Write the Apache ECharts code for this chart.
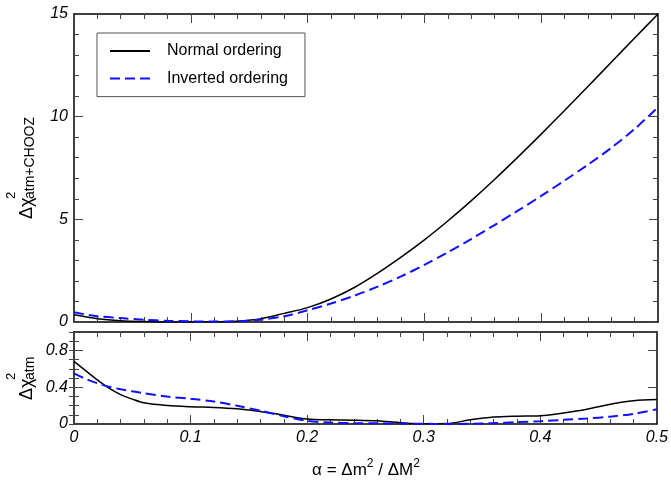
<!DOCTYPE html>
<html>
<head>
<meta charset="utf-8">
<script src="https://cdn.jsdelivr.net/npm/echarts@6/dist/echarts.min.js"></script>
<style>
html,body{margin:0;padding:0;background:#fff;}
#chart{width:671px;height:483px;}
</style>
</head>
<body>
<div id="chart"></div>
<script>
// ---- Data ----
var seriesNames = ['Normal ordering', 'Inverted ordering'];

// Upper panel: Δχ²(atm+CHOOZ) vs α
var alphaTop    = [0, 0.02, 0.04, 0.06, 0.08, 0.10, 0.12, 0.14, 0.16, 0.18, 0.20, 0.22, 0.24, 0.26, 0.28, 0.30, 0.32, 0.34, 0.36, 0.38, 0.40, 0.42, 0.44, 0.46, 0.48, 0.50];
var normalTop   = [0.35, 0.16, 0.06, 0.02, 0.0, 0.0, 0.0, 0.04, 0.16, 0.42, 0.70, 1.12, 1.68, 2.38, 3.16, 4.0, 4.92, 5.90, 6.94, 8.03, 9.15, 10.30, 11.47, 12.65, 13.83, 15.0];
var invertedTop = [0.47, 0.28, 0.19, 0.11, 0.06, 0.03, 0.02, 0.04, 0.11, 0.28, 0.57, 0.90, 1.28, 1.72, 2.22, 2.78, 3.39, 4.04, 4.72, 5.42, 6.14, 6.89, 7.66, 8.48, 9.40, 10.46];

// Lower panel: Δχ²(atm) vs α
var alphaBottom    = [0, 0.01, 0.02, 0.03, 0.04, 0.05, 0.06, 0.08, 0.10, 0.12, 0.14, 0.16, 0.18, 0.20, 0.22, 0.24, 0.26, 0.28, 0.30, 0.32, 0.34, 0.36, 0.38, 0.40, 0.42, 0.44, 0.46, 0.48, 0.50];
var normalBottom   = [0.68, 0.58, 0.48, 0.39, 0.32, 0.27, 0.23, 0.20, 0.187, 0.18, 0.165, 0.137, 0.095, 0.055, 0.045, 0.042, 0.035, 0.015, 0.002, 0.005, 0.045, 0.075, 0.085, 0.09, 0.12, 0.16, 0.215, 0.253, 0.265];
var invertedBottom = [0.55, 0.49, 0.443, 0.405, 0.378, 0.355, 0.335, 0.298, 0.274, 0.245, 0.198, 0.144, 0.085, 0.035, 0.015, 0.01, 0.008, 0.005, 0.002, 0.0, 0.003, 0.01, 0.02, 0.03, 0.045, 0.06, 0.08, 0.11, 0.16];

// Axis ticks
var xTicks = {min: 0, max: 0.5, interval: 0.1, minor: 5};
var yTopTicks = {min: 0, max: 15, interval: 5, minor: 5};
var yBottomTicks = {min: 0, max: 1.0, interval: 0.4, minorInterval: 0.1, labels: [0, 0.4, 0.8]};

function pairs(xs, ys) { return xs.map(function (x, i) { return [x, ys[i]]; }); }

var FONT = 'Liberation Sans, Arial, Helvetica, sans-serif';
var TICK = {color: '#444', width: 1};
var LINE = {color: '#000', width: 1.5};
var labelStyle = {fontStyle: 'italic', fontSize: 16, color: '#000', fontFamily: FONT};

function xAxisDef(grid, pos, showLabel) {
  return {
    type: 'value', gridIndex: grid, position: pos,
    min: xTicks.min, max: xTicks.max, interval: xTicks.interval,
    axisLine: {show: true, onZero: false, lineStyle: LINE},
    axisTick: {show: true, inside: true, length: 9, lineStyle: TICK},
    minorTick: {show: true, splitNumber: xTicks.minor, length: 5, lineStyle: TICK},
    splitLine: {show: false}, minorSplitLine: {show: false},
    axisLabel: Object.assign({show: showLabel, margin: 6,
      formatter: function (v) { return String(+v.toFixed(2)); }}, labelStyle)
  };
}

function yTopDef(pos, showLabel) {
  return {
    type: 'value', gridIndex: 0, position: pos,
    min: yTopTicks.min, max: yTopTicks.max, interval: yTopTicks.interval,
    axisLine: {show: true, onZero: false, lineStyle: LINE},
    axisTick: {show: true, inside: true, length: 9, lineStyle: TICK},
    minorTick: {show: true, splitNumber: yTopTicks.minor, length: 5, lineStyle: TICK},
    splitLine: {show: false}, minorSplitLine: {show: false},
    axisLabel: Object.assign({show: showLabel, margin: 6}, labelStyle)
  };
}

function yBottomMajor(pos, showLabel) {
  return {
    type: 'value', gridIndex: 1, position: pos,
    min: yBottomTicks.min, max: yBottomTicks.max, interval: yBottomTicks.interval,
    axisLine: {show: true, onZero: false, lineStyle: LINE},
    axisTick: {show: true, inside: true, length: 9, lineStyle: TICK},
    splitLine: {show: false},
    axisLabel: Object.assign({show: showLabel, margin: 6,
      formatter: function (v) {
        var r = +v.toFixed(2);
        return yBottomTicks.labels.indexOf(r) >= 0 ? String(r) : '';
      }}, labelStyle)
  };
}

function yBottomMinor(pos) {
  return {
    type: 'value', gridIndex: 1, position: pos,
    min: yBottomTicks.min, max: yBottomTicks.max, interval: yBottomTicks.minorInterval,
    axisLine: {show: false},
    axisTick: {show: true, inside: true, length: 5, lineStyle: TICK},
    splitLine: {show: false},
    axisLabel: {show: false}
  };
}

var normalStyle = {color: '#000', width: 1.5, type: 'solid'};
var invertedStyle = {color: '#1010ff', width: 2, type: [10, 5]};

function lineSeries(name, xi, yi, data, style) {
  return {
    name: name, type: 'line', xAxisIndex: xi, yAxisIndex: yi,
    data: data, symbol: 'none', showSymbol: false,
    smooth: 0.3,
    lineStyle: style, itemStyle: {color: style.color},
    clip: true, animation: false
  };
}

var chart = echarts.init(document.getElementById('chart'), null, {renderer: 'canvas'});

var option = {
  animation: false,
  backgroundColor: '#fff',
  textStyle: {fontFamily: FONT},
  grid: [
    {left: 74, right: 13, top: 14, height: 308},
    {left: 74, right: 13, top: 332, height: 92}
  ],
  xAxis: [
    xAxisDef(0, 'bottom', false),
    xAxisDef(0, 'top', false),
    xAxisDef(1, 'bottom', true),
    xAxisDef(1, 'top', false)
  ],
  yAxis: [
    yTopDef('left', true),
    yTopDef('right', false),
    yBottomMajor('left', true),
    yBottomMinor('left'),
    yBottomMajor('right', false),
    yBottomMinor('right')
  ],
  legend: {
    data: seriesNames,
    orient: 'vertical',
    left: 97, top: 33,
    itemWidth: 40, itemHeight: 16, itemGap: 11.6,
    padding: [10, 17, 10, 12],
    borderColor: '#555', borderWidth: 1,
    backgroundColor: '#fff',
    itemStyle: {color: 'rgba(0,0,0,0)', borderColor: 'rgba(0,0,0,0)', borderWidth: 0, opacity: 0},
    textStyle: {fontSize: 16, color: '#000', fontFamily: FONT, padding: [0, 0, 0, 12]},
    selectedMode: false
  },
  series: [
    lineSeries(seriesNames[0], 0, 0, pairs(alphaTop, normalTop), normalStyle),
    lineSeries(seriesNames[1], 0, 0, pairs(alphaTop, invertedTop), invertedStyle),
    lineSeries(seriesNames[0], 2, 2, pairs(alphaBottom, normalBottom), normalStyle),
    lineSeries(seriesNames[1], 2, 2, pairs(alphaBottom, invertedBottom), invertedStyle)
  ],
  graphic: [
    {
      type: 'group', x: 32, y: 219, rotation: Math.PI / 2,
      children: [
        {type: 'text', x: 0, y: -5, style: {text: 'Δχ', font: '18px ' + FONT, fill: '#000', verticalAlign: 'middle'}},
        {type: 'text', x: 20, y: -21, style: {text: '2', font: '13px ' + FONT, fill: '#000', verticalAlign: 'middle'}},
        {type: 'text', x: 20, y: -2, style: {text: 'atm+CHOOZ', font: '14px ' + FONT, fill: '#000', verticalAlign: 'middle'}}
      ]
    },
    {
      type: 'group', x: 32, y: 400, rotation: Math.PI / 2,
      children: [
        {type: 'text', x: 0, y: -5, style: {text: 'Δχ', font: '18px ' + FONT, fill: '#000', verticalAlign: 'middle'}},
        {type: 'text', x: 20, y: -21, style: {text: '2', font: '13px ' + FONT, fill: '#000', verticalAlign: 'middle'}},
        {type: 'text', x: 20, y: -2, style: {text: 'atm', font: '14px ' + FONT, fill: '#000', verticalAlign: 'middle'}}
      ]
    },
    {
      type: 'text', x: 366, y: 470,
      style: {
        text: '{m|α = Δm}{s|2}{m| / ΔM}{s|2}',
        align: 'center', verticalAlign: 'middle',
        rich: {
          m: {fontSize: 17, fontFamily: FONT, color: '#000', lineHeight: 24},
          s: {fontSize: 12, fontFamily: FONT, color: '#000', verticalAlign: 'top', lineHeight: 14}
        }
      }
    }
  ]
};
chart.setOption(option);
</script>
</body>
</html>
